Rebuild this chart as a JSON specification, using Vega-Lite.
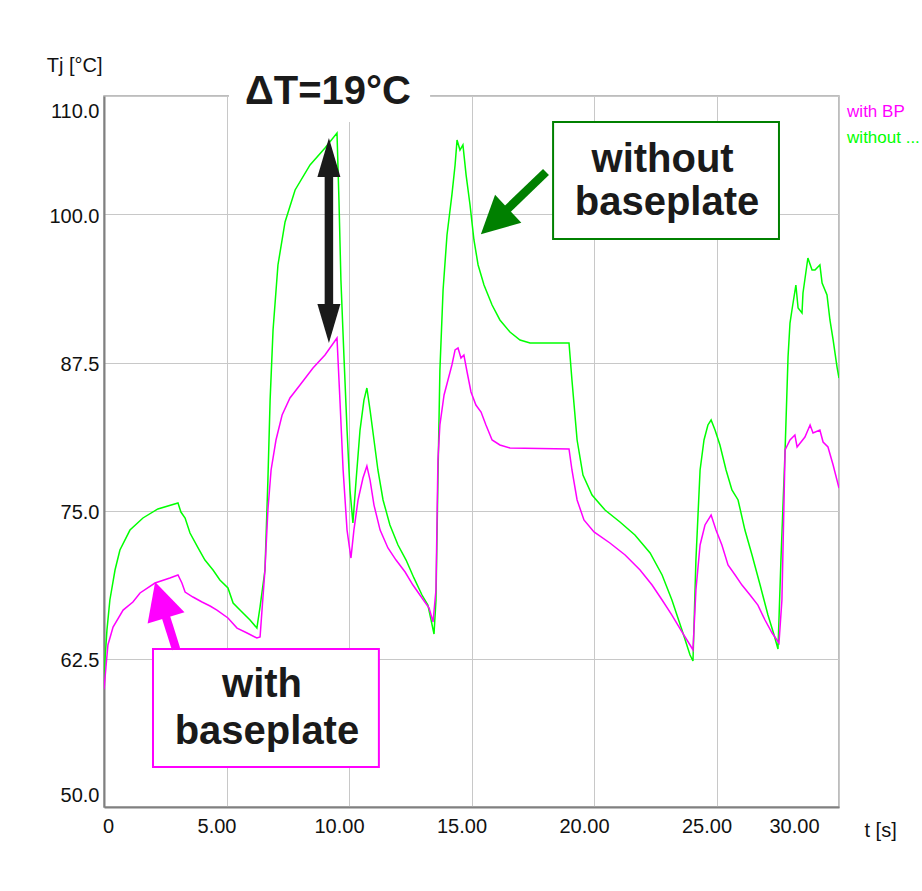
{
  "$schema": "https://vega.github.io/schema/vega-lite/v6.json",
  "width": 735,
  "height": 711,
  "autosize": {"type": "none"},
  "padding": {"left": 104, "top": 96, "right": 83, "bottom": 84},
  "background": "white",
  "config": {
    "view": {"stroke": "#a8a8a8", "strokeWidth": 1.5},
    "font": "Liberation Sans"
  },
  "datasets": {
    "series": [
      {"curve": "without BP", "t": 0, "T": 59.87}, {"curve": "without BP", "t": 0.04, "T": 62.4}, {"curve": "without BP", "t": 0.12, "T": 64.93}, {"curve": "without BP", "t": 0.24, "T": 67.47}, {"curve": "without BP", "t": 0.45, "T": 70.0}, {"curve": "without BP", "t": 0.65, "T": 71.69}, {"curve": "without BP", "t": 1.06, "T": 73.37}, {"curve": "without BP", "t": 1.59, "T": 74.39}, {"curve": "without BP", "t": 2.2, "T": 75.15}, {"curve": "without BP", "t": 3.02, "T": 75.65}, {"curve": "without BP", "t": 3.14, "T": 74.89}, {"curve": "without BP", "t": 3.31, "T": 74.39}, {"curve": "without BP", "t": 3.51, "T": 73.12}, {"curve": "without BP", "t": 3.84, "T": 71.86}, {"curve": "without BP", "t": 4.12, "T": 70.84}, {"curve": "without BP", "t": 4.45, "T": 70.0}, {"curve": "without BP", "t": 4.73, "T": 69.16}, {"curve": "without BP", "t": 5.06, "T": 68.48}, {"curve": "without BP", "t": 5.27, "T": 67.21}, {"curve": "without BP", "t": 5.55, "T": 66.62}, {"curve": "without BP", "t": 5.96, "T": 65.78}, {"curve": "without BP", "t": 6.24, "T": 65.1}, {"curve": "without BP", "t": 6.37, "T": 66.88}, {"curve": "without BP", "t": 6.57, "T": 70.0}, {"curve": "without BP", "t": 6.69, "T": 77.6}, {"curve": "without BP", "t": 6.78, "T": 84.34}, {"curve": "without BP", "t": 6.9, "T": 90.25}, {"curve": "without BP", "t": 7.1, "T": 95.74}, {"curve": "without BP", "t": 7.39, "T": 99.37}, {"curve": "without BP", "t": 7.8, "T": 102.07}, {"curve": "without BP", "t": 8.41, "T": 104.18}, {"curve": "without BP", "t": 9.02, "T": 105.61}, {"curve": "without BP", "t": 9.51, "T": 106.88}, {"curve": "without BP", "t": 9.59, "T": 101.22}, {"curve": "without BP", "t": 9.67, "T": 94.47}, {"curve": "without BP", "t": 9.8, "T": 87.72}, {"curve": "without BP", "t": 9.92, "T": 81.81}, {"curve": "without BP", "t": 10.04, "T": 76.75}, {"curve": "without BP", "t": 10.16, "T": 73.97}, {"curve": "without BP", "t": 10.29, "T": 77.6}, {"curve": "without BP", "t": 10.45, "T": 81.81}, {"curve": "without BP", "t": 10.61, "T": 84.34}, {"curve": "without BP", "t": 10.73, "T": 85.36}, {"curve": "without BP", "t": 10.86, "T": 83.5}, {"curve": "without BP", "t": 11.02, "T": 80.97}, {"curve": "without BP", "t": 11.18, "T": 78.44}, {"curve": "without BP", "t": 11.39, "T": 75.91}, {"curve": "without BP", "t": 11.67, "T": 73.8}, {"curve": "without BP", "t": 12.0, "T": 72.11}, {"curve": "without BP", "t": 12.33, "T": 70.84}, {"curve": "without BP", "t": 12.65, "T": 69.33}, {"curve": "without BP", "t": 12.98, "T": 67.89}, {"curve": "without BP", "t": 13.22, "T": 67.04}, {"curve": "without BP", "t": 13.47, "T": 64.6}, {"curve": "without BP", "t": 13.55, "T": 67.47}, {"curve": "without BP", "t": 13.63, "T": 77.6}, {"curve": "without BP", "t": 13.71, "T": 86.88}, {"curve": "without BP", "t": 13.84, "T": 93.63}, {"curve": "without BP", "t": 14.0, "T": 98.27}, {"curve": "without BP", "t": 14.2, "T": 101.65}, {"curve": "without BP", "t": 14.33, "T": 104.18}, {"curve": "without BP", "t": 14.41, "T": 106.29}, {"curve": "without BP", "t": 14.53, "T": 105.44}, {"curve": "without BP", "t": 14.65, "T": 105.87}, {"curve": "without BP", "t": 14.78, "T": 103.33}, {"curve": "without BP", "t": 14.94, "T": 100.8}, {"curve": "without BP", "t": 15.1, "T": 97.85}, {"curve": "without BP", "t": 15.27, "T": 95.74}, {"curve": "without BP", "t": 15.51, "T": 94.05}, {"curve": "without BP", "t": 15.84, "T": 92.36}, {"curve": "without BP", "t": 16.16, "T": 91.1}, {"curve": "without BP", "t": 16.57, "T": 90.08}, {"curve": "without BP", "t": 16.98, "T": 89.41}, {"curve": "without BP", "t": 17.39, "T": 89.16}, {"curve": "without BP", "t": 18.98, "T": 89.16}, {"curve": "without BP", "t": 19.1, "T": 86.03}, {"curve": "without BP", "t": 19.31, "T": 80.97}, {"curve": "without BP", "t": 19.55, "T": 78.01}, {"curve": "without BP", "t": 19.92, "T": 76.33}, {"curve": "without BP", "t": 20.45, "T": 75.06}, {"curve": "without BP", "t": 21.06, "T": 74.05}, {"curve": "without BP", "t": 21.67, "T": 72.95}, {"curve": "without BP", "t": 22.29, "T": 71.44}, {"curve": "without BP", "t": 22.78, "T": 69.58}, {"curve": "without BP", "t": 23.18, "T": 67.47}, {"curve": "without BP", "t": 23.59, "T": 64.93}, {"curve": "without BP", "t": 23.92, "T": 62.83}, {"curve": "without BP", "t": 24.04, "T": 62.32}, {"curve": "without BP", "t": 24.16, "T": 70.84}, {"curve": "without BP", "t": 24.33, "T": 78.44}, {"curve": "without BP", "t": 24.49, "T": 80.97}, {"curve": "without BP", "t": 24.65, "T": 82.24}, {"curve": "without BP", "t": 24.78, "T": 82.66}, {"curve": "without BP", "t": 24.94, "T": 81.81}, {"curve": "without BP", "t": 25.14, "T": 80.55}, {"curve": "without BP", "t": 25.39, "T": 78.44}, {"curve": "without BP", "t": 25.63, "T": 76.75}, {"curve": "without BP", "t": 25.88, "T": 75.91}, {"curve": "without BP", "t": 26.16, "T": 73.37}, {"curve": "without BP", "t": 26.45, "T": 71.27}, {"curve": "without BP", "t": 26.78, "T": 68.73}, {"curve": "without BP", "t": 27.1, "T": 66.2}, {"curve": "without BP", "t": 27.35, "T": 64.51}, {"curve": "without BP", "t": 27.51, "T": 63.33}, {"curve": "without BP", "t": 27.63, "T": 70.84}, {"curve": "without BP", "t": 27.8, "T": 80.13}, {"curve": "without BP", "t": 27.92, "T": 87.97}, {"curve": "without BP", "t": 28.0, "T": 90.84}, {"curve": "without BP", "t": 28.08, "T": 91.94}, {"curve": "without BP", "t": 28.24, "T": 94.05}, {"curve": "without BP", "t": 28.33, "T": 92.11}, {"curve": "without BP", "t": 28.49, "T": 91.69}, {"curve": "without BP", "t": 28.53, "T": 93.38}, {"curve": "without BP", "t": 28.73, "T": 96.33}, {"curve": "without BP", "t": 28.9, "T": 95.32}, {"curve": "without BP", "t": 29.02, "T": 95.32}, {"curve": "without BP", "t": 29.22, "T": 95.74}, {"curve": "without BP", "t": 29.31, "T": 94.22}, {"curve": "without BP", "t": 29.51, "T": 93.21}, {"curve": "without BP", "t": 29.63, "T": 91.1}, {"curve": "without BP", "t": 29.76, "T": 89.41}, {"curve": "without BP", "t": 29.92, "T": 87.13}, {"curve": "without BP", "t": 30.0, "T": 86.2},
      {"curve": "with BP", "t": 0, "T": 59.9}, {"curve": "with BP", "t": 0.08, "T": 61.81}, {"curve": "with BP", "t": 0.16, "T": 63.67}, {"curve": "with BP", "t": 0.37, "T": 65.19}, {"curve": "with BP", "t": 0.78, "T": 66.62}, {"curve": "with BP", "t": 1.18, "T": 67.3}, {"curve": "with BP", "t": 1.47, "T": 68.06}, {"curve": "with BP", "t": 2.08, "T": 68.9}, {"curve": "with BP", "t": 2.69, "T": 69.32}, {"curve": "with BP", "t": 3.02, "T": 69.58}, {"curve": "with BP", "t": 3.18, "T": 68.9}, {"curve": "with BP", "t": 3.31, "T": 68.14}, {"curve": "with BP", "t": 3.63, "T": 67.72}, {"curve": "with BP", "t": 4.0, "T": 67.3}, {"curve": "with BP", "t": 4.33, "T": 66.96}, {"curve": "with BP", "t": 4.61, "T": 66.62}, {"curve": "with BP", "t": 5.06, "T": 65.95}, {"curve": "with BP", "t": 5.43, "T": 65.1}, {"curve": "with BP", "t": 5.84, "T": 64.68}, {"curve": "with BP", "t": 6.24, "T": 64.26}, {"curve": "with BP", "t": 6.37, "T": 64.35}, {"curve": "with BP", "t": 6.45, "T": 66.62}, {"curve": "with BP", "t": 6.57, "T": 70.0}, {"curve": "with BP", "t": 6.69, "T": 75.06}, {"curve": "with BP", "t": 6.82, "T": 78.44}, {"curve": "with BP", "t": 7.02, "T": 80.97}, {"curve": "with BP", "t": 7.27, "T": 83.08}, {"curve": "with BP", "t": 7.59, "T": 84.52}, {"curve": "with BP", "t": 8.0, "T": 85.61}, {"curve": "with BP", "t": 8.53, "T": 87.04}, {"curve": "with BP", "t": 9.02, "T": 88.14}, {"curve": "with BP", "t": 9.51, "T": 89.58}, {"curve": "with BP", "t": 9.63, "T": 84.34}, {"curve": "with BP", "t": 9.76, "T": 78.44}, {"curve": "with BP", "t": 9.92, "T": 73.37}, {"curve": "with BP", "t": 10.08, "T": 71.01}, {"curve": "with BP", "t": 10.2, "T": 73.37}, {"curve": "with BP", "t": 10.37, "T": 75.91}, {"curve": "with BP", "t": 10.57, "T": 77.76}, {"curve": "with BP", "t": 10.73, "T": 78.77}, {"curve": "with BP", "t": 10.86, "T": 77.59}, {"curve": "with BP", "t": 11.02, "T": 75.48}, {"curve": "with BP", "t": 11.27, "T": 73.37}, {"curve": "with BP", "t": 11.59, "T": 71.86}, {"curve": "with BP", "t": 11.92, "T": 70.84}, {"curve": "with BP", "t": 12.29, "T": 69.83}, {"curve": "with BP", "t": 12.61, "T": 68.73}, {"curve": "with BP", "t": 12.98, "T": 67.64}, {"curve": "with BP", "t": 13.27, "T": 66.79}, {"curve": "with BP", "t": 13.43, "T": 65.61}, {"curve": "with BP", "t": 13.55, "T": 68.31}, {"curve": "with BP", "t": 13.63, "T": 79.28}, {"curve": "with BP", "t": 13.71, "T": 82.24}, {"curve": "with BP", "t": 13.88, "T": 84.77}, {"curve": "with BP", "t": 14.04, "T": 86.03}, {"curve": "with BP", "t": 14.2, "T": 87.3}, {"curve": "with BP", "t": 14.33, "T": 88.57}, {"curve": "with BP", "t": 14.45, "T": 88.74}, {"curve": "with BP", "t": 14.57, "T": 87.89}, {"curve": "with BP", "t": 14.69, "T": 88.14}, {"curve": "with BP", "t": 14.82, "T": 86.71}, {"curve": "with BP", "t": 14.98, "T": 85.02}, {"curve": "with BP", "t": 15.18, "T": 83.92}, {"curve": "with BP", "t": 15.39, "T": 83.33}, {"curve": "with BP", "t": 15.59, "T": 82.24}, {"curve": "with BP", "t": 15.84, "T": 80.97}, {"curve": "with BP", "t": 16.16, "T": 80.55}, {"curve": "with BP", "t": 16.57, "T": 80.3}, {"curve": "with BP", "t": 18.98, "T": 80.21}, {"curve": "with BP", "t": 19.1, "T": 78.44}, {"curve": "with BP", "t": 19.31, "T": 75.91}, {"curve": "with BP", "t": 19.59, "T": 74.22}, {"curve": "with BP", "t": 20.0, "T": 73.21}, {"curve": "with BP", "t": 20.65, "T": 72.28}, {"curve": "with BP", "t": 21.27, "T": 71.27}, {"curve": "with BP", "t": 21.88, "T": 70.0}, {"curve": "with BP", "t": 22.37, "T": 68.73}, {"curve": "with BP", "t": 22.78, "T": 67.47}, {"curve": "with BP", "t": 23.18, "T": 66.2}, {"curve": "with BP", "t": 23.59, "T": 64.77}, {"curve": "with BP", "t": 23.92, "T": 63.67}, {"curve": "with BP", "t": 24.04, "T": 63.25}, {"curve": "with BP", "t": 24.16, "T": 68.31}, {"curve": "with BP", "t": 24.33, "T": 72.11}, {"curve": "with BP", "t": 24.53, "T": 73.8}, {"curve": "with BP", "t": 24.78, "T": 74.64}, {"curve": "with BP", "t": 24.98, "T": 73.37}, {"curve": "with BP", "t": 25.22, "T": 72.11}, {"curve": "with BP", "t": 25.47, "T": 70.42}, {"curve": "with BP", "t": 25.76, "T": 69.58}, {"curve": "with BP", "t": 26.04, "T": 68.73}, {"curve": "with BP", "t": 26.37, "T": 67.89}, {"curve": "with BP", "t": 26.69, "T": 67.04}, {"curve": "with BP", "t": 26.98, "T": 65.78}, {"curve": "with BP", "t": 27.27, "T": 64.68}, {"curve": "with BP", "t": 27.55, "T": 63.84}, {"curve": "with BP", "t": 27.67, "T": 67.47}, {"curve": "with BP", "t": 27.8, "T": 80.13}, {"curve": "with BP", "t": 28.0, "T": 80.97}, {"curve": "with BP", "t": 28.2, "T": 81.39}, {"curve": "with BP", "t": 28.29, "T": 80.38}, {"curve": "with BP", "t": 28.61, "T": 81.22}, {"curve": "with BP", "t": 28.82, "T": 82.24}, {"curve": "with BP", "t": 28.94, "T": 81.56}, {"curve": "with BP", "t": 29.22, "T": 81.81}, {"curve": "with BP", "t": 29.35, "T": 80.8}, {"curve": "with BP", "t": 29.55, "T": 80.38}, {"curve": "with BP", "t": 29.76, "T": 78.86}, {"curve": "with BP", "t": 30.0, "T": 76.92}
    ],
    "legendItems": [
      {"curve": "with BP", "label": "with BP", "t": 30.33, "T": 108.65},
      {"curve": "without BP", "label": "without ...", "t": 30.33, "T": 106.46}
    ],
    "titleGap": [{"t": 5.1, "t2": 13.31, "T": 111.35, "T2": 107.81}],
    "titleText": [{"label": "ΔT=19°C", "t": 9.14, "T": 110.34}],
    "boxes": [
      {"arrow": "with", "t": 2.0, "t2": 11.22, "T": 53.38, "T2": 63.33},
      {"arrow": "without", "t": 18.33, "t2": 27.55, "T": 97.93, "T2": 107.81}
    ],
    "boxText": [
      {"label": "without", "t": 22.8, "T": 103.6},
      {"label": "baseplate", "t": 22.98, "T": 100.0},
      {"label": "with", "t": 6.45, "T": 59.3},
      {"label": "baseplate", "t": 6.65, "T": 55.35}
    ],
    "shafts": [
      {"arrow": "delta", "t": 9.18, "T": 104.81, "t2": 9.18, "T2": 90.8},
      {"arrow": "without", "t": 18.04, "T": 103.59, "t2": 15.94, "T2": 99.41},
      {"arrow": "with", "t": 2.94, "T": 63.33, "t2": 2.31, "T2": 67.47}
    ],
    "headDeltaUp": [{"t": 9.18, "T": 104.81}],
    "headDeltaDown": [{"t": 9.18, "T": 90.8}],
    "headWithout": [{"t": 15.94, "T": 99.41}],
    "headWith": [{"t": 2.31, "T": 67.47}]
  },
  "layer": [
    {
      "data": {"name": "series"},
      "mark": {"type": "line", "strokeWidth": 1.5, "clip": true},
      "encoding": {
        "x": {
          "field": "t", "type": "quantitative",
          "scale": {"domain": [0, 30], "nice": false, "zero": false},
          "axis": {
            "values": [0, 5, 10, 15, 20, 25, 30],
            "labelExpr": "datum.value == 0 ? '0' : format(datum.value, '.2f')",
            "grid": true, "gridColor": "#c8c8c8", "gridWidth": 1,
            "ticks": false,
            "domainColor": "#808080", "domainWidth": 2,
            "labelFont": "Liberation Sans",
            "labelFontSize": 20, "labelColor": "#111111",
            "labelPadding": 9, "labelBaseline": "top",
            "labelOffset": {"condition": [{"test": "datum.value == 0", "value": 4}, {"test": "datum.value == 30", "value": -45}], "value": -10},
            "labelFlush": false, "labelOverlap": false,
            "title": "t [s]",
            "titleFont": "Liberation Sans",
            "titleFontSize": 20, "titleFontWeight": "normal", "titleColor": "#111111",
            "titleX": 760, "titleY": 23, "titleAlign": "left", "titleBaseline": "middle", "titleAnchor": "start"
          }
        },
        "y": {
          "field": "T", "type": "quantitative",
          "scale": {"domain": [50, 110], "nice": false, "zero": false},
          "axis": {
            "values": [50, 62.5, 75, 87.5, 100, 110],
            "format": ".1f",
            "grid": true, "gridColor": "#c8c8c8", "gridWidth": 1,
            "ticks": false,
            "domainColor": "#808080", "domainWidth": 2,
            "labelFont": "Liberation Sans",
            "labelFontSize": 20, "labelColor": "#111111",
            "labelPadding": 5,
            "labelOffset": {"condition": [{"test": "datum.value == 110", "value": 15}, {"test": "datum.value == 50", "value": -12}], "value": 2},
            "labelFlush": false, "labelOverlap": false,
            "title": "Tj [°C]",
            "titleFont": "Liberation Sans",
            "titleFontSize": 20, "titleFontWeight": "normal", "titleColor": "#111111",
            "titleAngle": 0, "titleX": -2, "titleY": -31, "titleAlign": "right", "titleBaseline": "middle", "titleAnchor": "start"
          }
        },
        "color": {
          "field": "curve", "type": "nominal",
          "scale": {"domain": ["with BP", "without BP"], "range": ["#ff00ff", "#00ff00"]},
          "legend": null
        }
      }
    },
    {
      "data": {"name": "legendItems"},
      "mark": {"type": "text", "align": "left", "baseline": "middle", "fontSize": 17, "font": "Liberation Sans"},
      "encoding": {
        "x": {"field": "t", "type": "quantitative"},
        "y": {"field": "T", "type": "quantitative"},
        "text": {"field": "label"},
        "color": {"field": "curve", "type": "nominal", "legend": null}
      }
    },
    {
      "data": {"name": "titleGap"},
      "mark": {"type": "rect", "fill": "white", "strokeWidth": 0},
      "encoding": {
        "x": {"field": "t", "type": "quantitative"}, "x2": {"field": "t2"},
        "y": {"field": "T", "type": "quantitative"}, "y2": {"field": "T2"}
      }
    },
    {
      "data": {"name": "titleText"},
      "mark": {"type": "text", "align": "center", "baseline": "middle", "fontSize": 40, "fontWeight": "bold", "color": "#1a1a1a", "font": "Liberation Sans"},
      "encoding": {
        "x": {"field": "t", "type": "quantitative"},
        "y": {"field": "T", "type": "quantitative"},
        "text": {"field": "label"}
      }
    },
    {
      "data": {"name": "boxes"},
      "mark": {"type": "rect", "fill": "white", "strokeWidth": 2},
      "encoding": {
        "x": {"field": "t", "type": "quantitative"}, "x2": {"field": "t2"},
        "y": {"field": "T", "type": "quantitative"}, "y2": {"field": "T2"},
        "stroke": {"field": "arrow", "type": "nominal", "scale": {"domain": ["delta", "with", "without"], "range": ["#1a1a1a", "#ff00ff", "#008000"]}, "legend": null}
      }
    },
    {
      "data": {"name": "boxText"},
      "mark": {"type": "text", "align": "center", "baseline": "alphabetic", "fontSize": 40, "fontWeight": "bold", "color": "#1a1a1a", "font": "Liberation Sans"},
      "encoding": {
        "x": {"field": "t", "type": "quantitative"},
        "y": {"field": "T", "type": "quantitative"},
        "text": {"field": "label"}
      }
    },
    {
      "data": {"name": "shafts"},
      "mark": {"type": "rule", "strokeWidth": 8.5, "strokeCap": "butt"},
      "encoding": {
        "x": {"field": "t", "type": "quantitative"}, "x2": {"field": "t2"},
        "y": {"field": "T", "type": "quantitative"}, "y2": {"field": "T2"},
        "stroke": {"field": "arrow", "type": "nominal", "legend": null}
      }
    },
    {
      "data": {"name": "headDeltaUp"},
      "mark": {"type": "point", "shape": "M0,-1L0.59,1L-0.59,1Z", "size": 1521, "angle": 0, "filled": true, "fill": "#1a1a1a", "opacity": 1, "strokeWidth": 0},
      "encoding": {"x": {"field": "t", "type": "quantitative"}, "y": {"field": "T", "type": "quantitative"}}
    },
    {
      "data": {"name": "headDeltaDown"},
      "mark": {"type": "point", "shape": "M0,-1L0.59,1L-0.59,1Z", "size": 1521, "angle": 180, "filled": true, "fill": "#1a1a1a", "opacity": 1, "strokeWidth": 0},
      "encoding": {"x": {"field": "t", "type": "quantitative"}, "y": {"field": "T", "type": "quantitative"}}
    },
    {
      "data": {"name": "headWithout"},
      "mark": {"type": "point", "shape": "M0,-1L1.03,1L-1.03,1Z", "size": 1400, "angle": 227, "filled": true, "fill": "#008000", "opacity": 1, "strokeWidth": 0},
      "encoding": {"x": {"field": "t", "type": "quantitative"}, "y": {"field": "T", "type": "quantitative"}}
    },
    {
      "data": {"name": "headWith"},
      "mark": {"type": "point", "shape": "M0,-1L1.03,1L-1.03,1Z", "size": 1400, "angle": 343, "filled": true, "fill": "#ff00ff", "opacity": 1, "strokeWidth": 0},
      "encoding": {"x": {"field": "t", "type": "quantitative"}, "y": {"field": "T", "type": "quantitative"}}
    }
  ]
}
